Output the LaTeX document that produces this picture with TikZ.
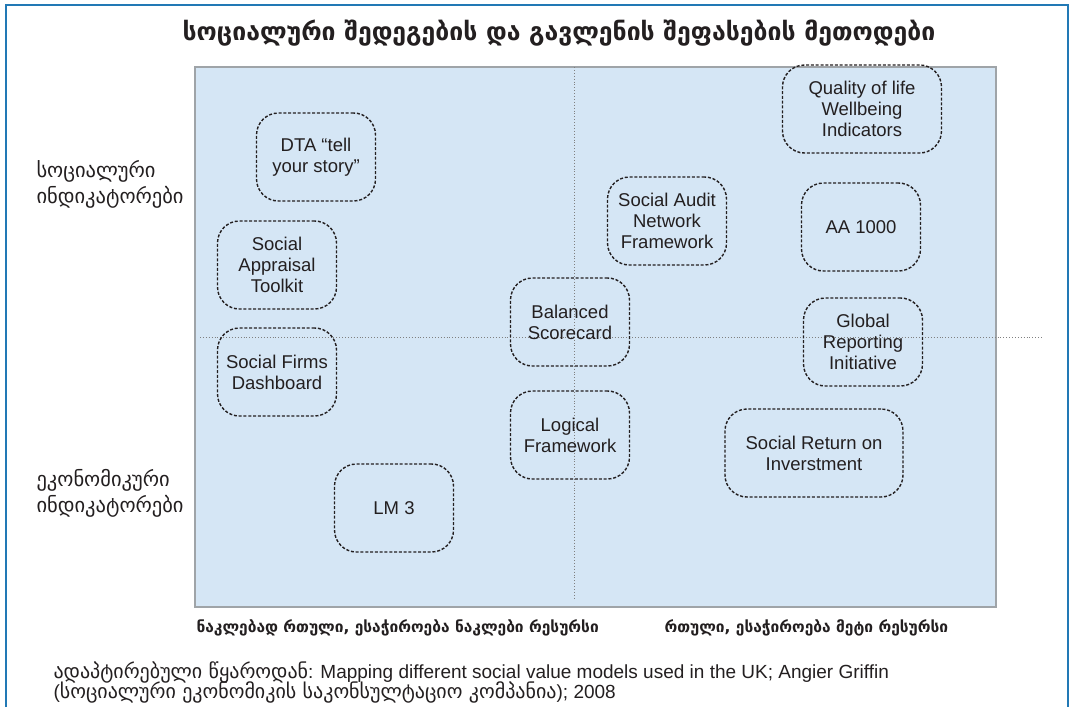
\documentclass[tikz,border=0pt]{standalone}
\usepackage{fontspec}
\setmainfont{Liberation Sans}
\newfontfamily\geo{DejaVu Sans}
\definecolor{cadre}{HTML}{2279B5}
\definecolor{fond}{HTML}{D5E6F5}
\definecolor{bord}{HTML}{9FA4A8}
\definecolor{texte}{HTML}{231F20}
\begin{document}
\begin{tikzpicture}[x=1pt,y=-1pt,
  methode/.style={draw=texte,line width=1.4pt,dash pattern=on 3pt off 1.8pt,rounded corners=22pt,
    minimum width=119pt,minimum height=88pt,align=center,text=texte,
    font=\fontsize{18.5}{21}\selectfont},
  axe/.style={anchor=west,align=left,text=texte,font=\geo\fontsize{20.5}{26}\selectfont},
  bas/.style={anchor=west,text=texte,font=\geo\bfseries\fontsize{15.5}{18}\selectfont},
  source/.style={anchor=west,text=texte,font=\fontsize{19}{20}\selectfont}]
  \useasboundingbox (0,0) rectangle (1070,707);
  % cadre
  \draw[cadre,line width=2.4pt] (6,707) -- (6,5) -- (1068,5) -- (1068,707);
  \node[text=texte,font=\geo\bfseries\fontsize{24.8}{28}\selectfont] (titre) at (559,33)
    {სოციალური შედეგების და გავლენის შეფასების მეთოდები};
  % quadrants
  \fill[fond] (195,67) rectangle (996,607);
  \draw[bord,line width=1.2pt] (195,67) rectangle (996,607);
  \coordinate (haut) at (574,67);
  \coordinate (bas) at (574,600);
  \coordinate (gauche) at (200,337);
  \coordinate (droite) at (1042,337);
  \draw[gray,line width=0.9pt,dotted] (haut) -- (bas);
  \draw[gray,line width=0.9pt,dotted] (gauche) -- (droite);
  % axes
  \node[axe] (social) at (33,184) {სოციალური\\ინდიკატორები};
  \node[axe] (econ) at (33,493) {ეკონომიკური\\ინდიკატორები};
  \node[bas] (facile) at (193,628) {ნაკლებად რთული, ესაჭიროება ნაკლები რესურსი};
  \node[bas] (dur) at (661,628) {რთული, ესაჭიროება მეტი რესურსი};
  % méthodes
  \node[methode] (dta) at (316,157) {DTA “tell\\your story”};
  \node[methode] (sat) at (277,265) {Social\\Appraisal\\Toolkit};
  \node[methode] (sfd) at (277,372) {Social Firms\\Dashboard};
  \node[methode] (lm) at (394,508) {LM 3};
  \node[methode] (sanf) at (667,221) {Social Audit\\Network\\Framework};
  \node[methode] (bsc) at (570,322) {Balanced\\Scorecard};
  \node[methode] (lf) at (570,435) {Logical\\Framework};
  \node[methode,minimum width=159pt] (qol) at (862,109) {Quality of life\\Wellbeing\\Indicators};
  \node[methode] (aa) at (861,227) {AA 1000};
  \node[methode] (gri) at (863,342) {Global\\Reporting\\Initiative};
  \node[methode,minimum width=178pt] (sroi) at (814,453) {Social Return on\\Inverstment};
  % source
  \node[source] (src1) at (50,672) {{\geo\fontsize{20}{20}\selectfont ადაპტირებული წყაროდან}: Mapping different social value models used in the UK; Angier Griffin};
  \node[source] (src2) at (50,692) {({\geo\fontsize{20}{20}\selectfont სოციალური ეკონომიკის საკონსულტაციო კომპანია}); 2008};
\end{tikzpicture}
\end{document}
